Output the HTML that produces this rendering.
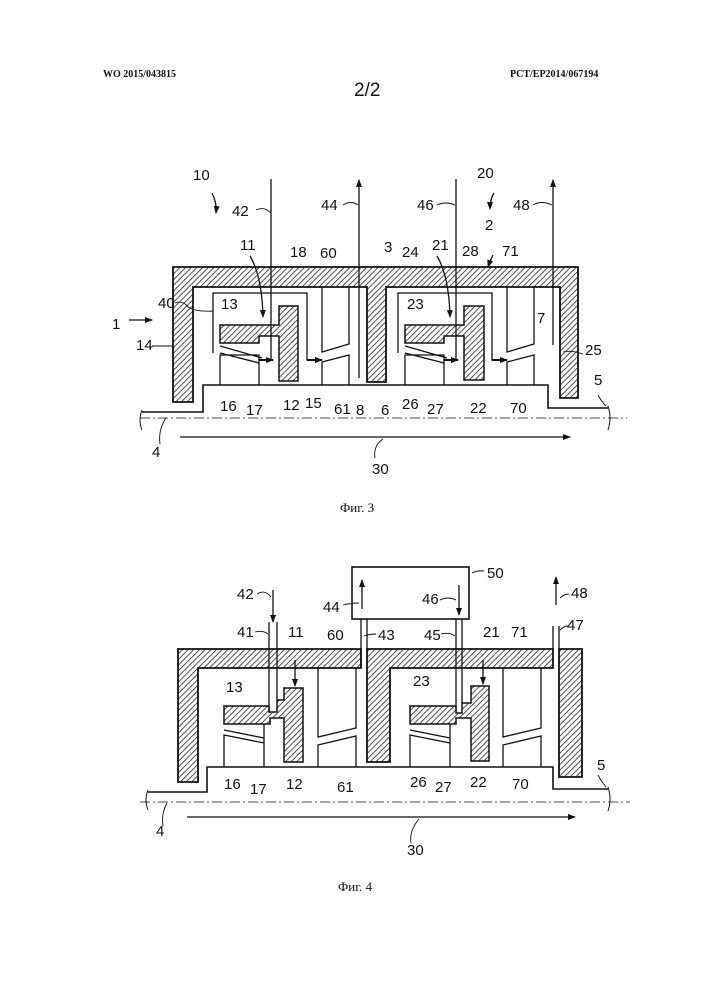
<!DOCTYPE html>
<html><head><meta charset="utf-8"><style>
html,body{margin:0;padding:0;background:#fff;}
svg{display:block;}
.t{font-family:"Liberation Sans",sans-serif;font-size:15px;fill:#111;}
.h{font-family:"Liberation Serif",serif;font-size:10px;font-weight:bold;fill:#111;}
.c{font-family:"Liberation Serif","DejaVu Serif",serif;font-size:13px;fill:#111;}
</style></head><body>
<svg width="707" height="1000" viewBox="0 0 707 1000" xmlns="http://www.w3.org/2000/svg">
<defs>
<pattern id="hp" patternUnits="userSpaceOnUse" width="4" height="4" patternTransform="rotate(45)">
<rect width="4" height="4" fill="#fff"/><line x1="0" y1="0" x2="0" y2="4" stroke="#222" stroke-width="1.6"/>
</pattern>
<marker id="ar" markerWidth="8" markerHeight="8" refX="7" refY="4" orient="auto" markerUnits="userSpaceOnUse"><path d="M0,1 L8,4 L0,7 Z" fill="#111"/></marker>
</defs>
<text x="103" y="77" class="h">WO 2015/043815</text>
<text x="510" y="77" class="h">PCT/EP2014/067194</text>
<text x="354" y="96" class="t" style="font-size:19px">2/2</text>

<g fill="none" stroke="#111" stroke-width="1.3">
<!-- FIG 3 -->
<path d="M173,267 H578 V398 H560 V287 H386 V382 H367 V287 H193 V402 H173 Z" fill="url(#hp)" stroke-width="1.8"/>
<path d="M142,412 H203 V385 H548 V408 H608" stroke-width="1.6"/>
<path d="M140,418 H627" stroke-dasharray="10,3,2,3" stroke-width="0.8"/>
<path d="M142,410 q-4,10 0,20 M608,406 q4,12 0,24" stroke-width="1"/>
<line x1="180" y1="437" x2="570" y2="437" marker-end="url(#ar)"/>
<path d="M220,325 H279 V306 H298 V381 H279 V336 H259 V343 H220 Z" fill="url(#hp)" stroke-width="1.5"/>
<path d="M213,353 V293 H307 V360 H316 M220,346 L262,358 M220,353 L259,363 M220,385 V355 H259 V385 M259,363 V385"/>
<path d="M322,287 V352 L349,344 V287 M322,385 V362 L349,355 V385"/>
<line x1="259" y1="360" x2="273" y2="360" marker-end="url(#ar)" stroke-width="2"/>
<line x1="307" y1="360" x2="322" y2="360" marker-end="url(#ar)" stroke-width="2"/>
<path d="M405,325 H464 V306 H484 V380 H464 V336 H444 V343 H405 Z" fill="url(#hp)" stroke-width="1.5"/>
<path d="M398,353 V293 H492 V360 H501 M405,346 L447,358 M405,353 L444,363 M405,385 V355 H444 V385 M444,363 V385"/>
<path d="M507,287 V352 L534,344 V287 M507,385 V362 L534,355 V385"/>
<line x1="444" y1="360" x2="458" y2="360" marker-end="url(#ar)" stroke-width="2"/>
<line x1="492" y1="360" x2="507" y2="360" marker-end="url(#ar)" stroke-width="2"/>
<line x1="271" y1="179" x2="271" y2="360"/>
<line x1="359" y1="378" x2="359" y2="180" marker-end="url(#ar)"/>
<line x1="456" y1="179" x2="456" y2="360"/>
<line x1="553" y1="345" x2="553" y2="180" marker-end="url(#ar)"/>
<path d="M212,193 q5,10 4,20" marker-end="url(#ar)"/>
<path d="M494,193 q-4,6 -4,16" marker-end="url(#ar)"/>
<path d="M493,255 q-3,6 -5,12" marker-end="url(#ar)"/>
<path d="M250,256 q12,20 13,61" marker-end="url(#ar)"/>
<path d="M437,256 q12,20 13,61" marker-end="url(#ar)"/>
<path d="M129,320 H152" marker-end="url(#ar)"/>
<!-- leaders fig3 -->
<g stroke-width="0.9">
<path d="M256,210 q8,-4 15,3"/><path d="M343,205 q8,-5 15,0"/><path d="M437,205 q8,-4 18,0"/><path d="M533,205 q8,-5 19,0"/>
<path d="M175,303 q8,-3 13,4 q8,5 25,4"/><path d="M152,346 h20"/><path d="M563,352 q8,-2 20,2"/><path d="M598,395 q3,6 8,11"/>
<path d="M160,444 q-2,-14 6,-26"/><path d="M375,458 q-2,-12 8,-19"/>
</g>
<!-- FIG 4 -->
<path d="M178,649 H361 V668 H198 V782 H178 Z" fill="url(#hp)" stroke-width="1.8"/>
<path d="M367,649 H553 V668 H390 V762 H367 Z" fill="url(#hp)" stroke-width="1.8"/>
<path d="M559,649 H582 V777 H559 Z" fill="url(#hp)" stroke-width="1.8"/>
<rect x="352" y="567" width="117" height="52" stroke-width="1.6"/>
<path d="M269,622 V712 M277,622 V700 M361,619 V668 M367,619 V649 M456,619 V713 M462,619 V703 M553,626 V649 M559,626 V649"/>
<path d="M148,792 H207 V767 H553 V789 H608" stroke-width="1.6"/>
<path d="M140,802 H630" stroke-dasharray="10,3,2,3" stroke-width="0.8"/>
<path d="M148,790 q-4,10 0,20 M608,787 q4,12 0,24" stroke-width="1"/>
<line x1="187" y1="817" x2="575" y2="817" marker-end="url(#ar)"/>
<path d="M224,706 H269 V712 H277 V700 H284 V688 H303 V762 H284 V718 H270 V724 H224 Z" fill="url(#hp)" stroke-width="1.5"/>
<path d="M410,706 H456 V713 H462 V703 H471 V686 H489 V761 H471 V718 H456 V724 H410 Z" fill="url(#hp)" stroke-width="1.5"/>
<path d="M224,767 V735 L264,743 V767 M224,730 L264,738 M264,724 V743"/>
<path d="M318,668 V737 L356,728 V668 M318,767 V745 L356,736 V767"/>
<path d="M410,767 V735 L450,743 V767 M410,730 L450,738 M450,724 V743"/>
<path d="M503,668 V737 L541,728 V668 M503,767 V745 L541,736 V767"/>
<line x1="273" y1="590" x2="273" y2="622" marker-end="url(#ar)"/>
<line x1="362" y1="609" x2="362" y2="580" marker-end="url(#ar)"/>
<line x1="459" y1="585" x2="459" y2="615" marker-end="url(#ar)"/>
<line x1="556" y1="605" x2="556" y2="577" marker-end="url(#ar)"/>
<line x1="295" y1="660" x2="295" y2="686" marker-end="url(#ar)"/>
<line x1="483" y1="660" x2="483" y2="684" marker-end="url(#ar)"/>
<g stroke-width="0.9">
<path d="M257,594 q8,-5 14,3"/><path d="M472,573 q6,-3 12,-2"/><path d="M343,605 q8,-2 16,-2"/><path d="M440,600 q8,-4 16,0"/><path d="M560,598 q4,-4 9,-4"/>
<path d="M255,632 q8,-2 13,2"/><path d="M364,636 q6,-2 12,-2"/><path d="M441,634 q8,-2 14,2"/><path d="M560,630 q4,-4 8,-4"/>
<path d="M598,775 q3,6 8,12"/><path d="M163,826 q-2,-12 4,-23"/><path d="M411,843 q-2,-12 8,-24"/>
</g>
</g>

<g class="t">
<text x="193" y="180">10</text><text x="477" y="178">20</text>
<text x="232" y="216">42</text><text x="321" y="210">44</text><text x="417" y="210">46</text><text x="513" y="210">48</text>
<text x="485" y="230">2</text>
<text x="240" y="250">11</text><text x="290" y="257">18</text><text x="320" y="258">60</text>
<text x="384" y="252">3</text><text x="402" y="257">24</text><text x="432" y="250">21</text><text x="462" y="256">28</text><text x="502" y="256">71</text>
<text x="221" y="309">13</text><text x="407" y="309">23</text><text x="158" y="308">40</text>
<text x="537" y="323">7</text><text x="112" y="329">1</text><text x="136" y="350">14</text><text x="585" y="355">25</text>
<text x="220" y="411">16</text><text x="246" y="415">17</text><text x="283" y="410">12</text><text x="305" y="408">15</text><text x="334" y="414">61</text>
<text x="356" y="415">8</text><text x="381" y="415">6</text><text x="402" y="409">26</text><text x="427" y="414">27</text><text x="470" y="413">22</text><text x="510" y="413">70</text>
<text x="594" y="385">5</text><text x="152" y="457">4</text><text x="372" y="474">30</text>
<text x="487" y="578">50</text><text x="237" y="599">42</text><text x="323" y="612">44</text><text x="422" y="604">46</text><text x="571" y="598">48</text>
<text x="237" y="637">41</text><text x="288" y="637">11</text><text x="327" y="640">60</text><text x="378" y="640">43</text><text x="424" y="640">45</text><text x="483" y="637">21</text><text x="511" y="637">71</text><text x="567" y="630">47</text>
<text x="226" y="692">13</text><text x="413" y="686">23</text>
<text x="224" y="789">16</text><text x="250" y="794">17</text><text x="286" y="789">12</text><text x="337" y="792">61</text>
<text x="410" y="787">26</text><text x="435" y="792">27</text><text x="470" y="787">22</text><text x="512" y="789">70</text>
<text x="597" y="770">5</text><text x="156" y="836">4</text><text x="407" y="855">30</text>
</g>
<text x="340" y="512" class="c">Фиг. 3</text>
<text x="338" y="891" class="c">Фиг. 4</text>
</svg>
</body></html>
